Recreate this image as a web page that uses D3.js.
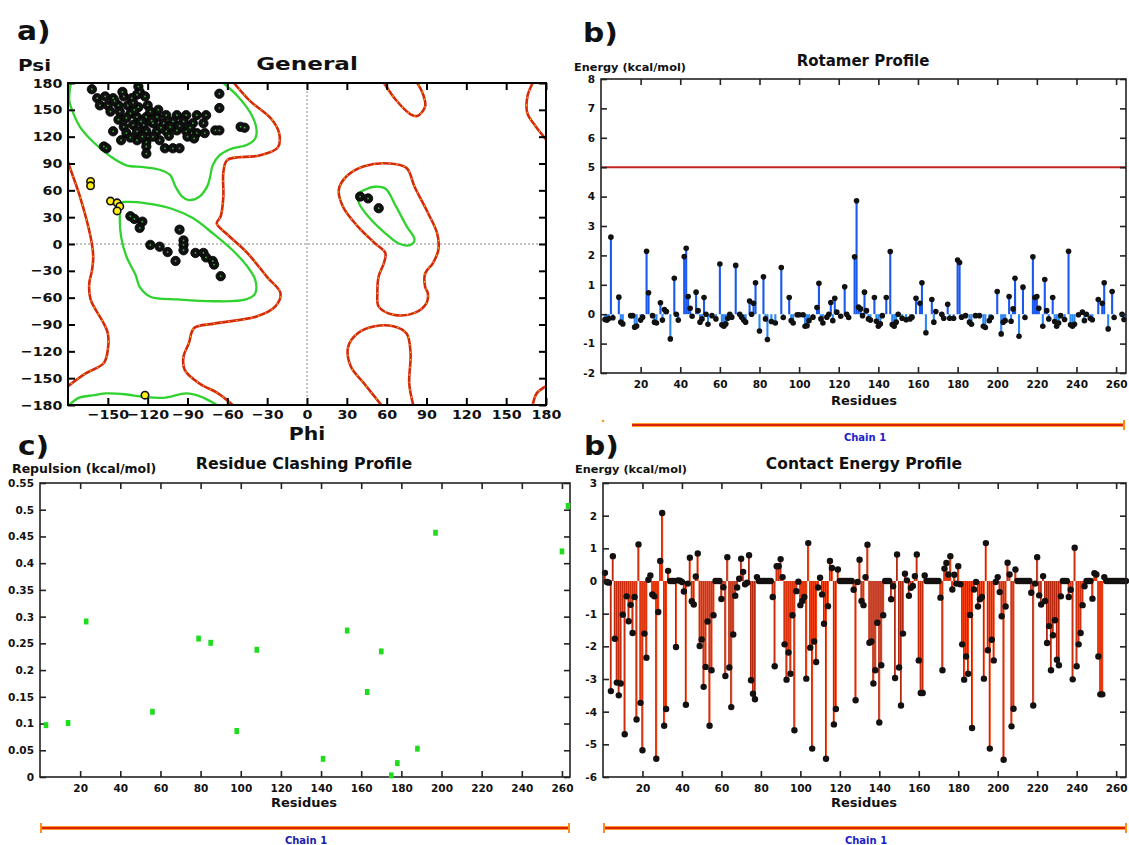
<!DOCTYPE html>
<html>
<head>
<meta charset="utf-8">
<script src="https://cdn.jsdelivr.net/npm/d3@7"></script>
<style>
  body { margin: 0; background: #fff; }
  text { font-family: "DejaVu Sans", Verdana, sans-serif; font-weight: bold; fill: #111; }
</style>
</head>
<body>
<svg id="fig" width="1129" height="845"></svg>
<script>
// ================= data =================

// Ramachandran plot (phi, psi in degrees)
const phiTicks = [-150, -120, -90, -60, -30, 0, 30, 60, 90, 120, 150, 180];
const psiTicks = [-180, -150, -120, -90, -60, -30, 0, 30, 60, 90, 120, 150, 180];

const favouredResidues = [
  [-162,173],[-127,176],[-126,170],[-128,167],[-158,163],[-152,165],[-146,163],[-138,165],[-132,163],[-122,165],
  [-120,155],[-156,155],[-150,155],[-142,155],[-135,155],[-127,153],[-148,148],[-141,148],[-133,146],[-142,139],
  [-136,141],[-128,142],[-121,142],[-113,142],[-106,144],[-98,144],[-91,144],[-83,144],[-76,144],[-138,131],
  [-131,133],[-123,133],[-116,135],[-108,135],[-101,137],[-93,137],[-86,135],[-78,135],[-146,126],[-136,124],
  [-128,126],[-121,126],[-113,126],[-106,126],[-98,127],[-91,126],[-83,124],[-77,124],[-69,127],[-66,127],
  [-50,131],[-47,130],[-140,116],[-128,116],[-121,114],[-111,116],[-153,109],[-151,107],[-121,109],[-121,101],
  [-107,107],[-101,107],[-96,107],[-66,168],[-66,152],[-130,150],[-118,148],[-110,130],[-103,131],[-96,132],
  [-88,130],[-125,137],[-117,138],[-112,150],[-131,158],[-124,120],[-116,120],[-104,121],[-90,120],[-85,118],
  [-133,119],[-145,160],[-139,170],
  [-133,31],[-130,28],[-124,25],[-126,18],[-118,-1],[-111,-3],[-105,-9],[-99,-19],[-96,16],[-93,4],
  [-93,-1],[-93,-7],[-84,-10],[-78,-10],[-76,-15],[-71,-19],[-70,-23],[-65,-36],
  [40,53],[46,51],[54,40]
];
const allowedResidues = [[-163,70],[-163,65],[-148,48],[-143,46],[-141,42],[-143,37],[-122,-169]];

// favoured-region contours (green)
const favouredBeta = [[-178,180],[-179,160],[-177,150],[-171,131],[-161,114],[-148,98],[-136,88],[-123,86],[-111,83],
  [-103,77],[-99,64],[-94,53],[-89,49],[-81,53],[-75,65],[-73,75],[-71,88],[-66,99],[-58,106],[-45,111],[-39,118],
  [-38,128],[-42,145],[-52,165],[-63,180]];
const favouredBetaWrap = [[-179,-180],[-172,-172],[-160,-169],[-151,-167],[-137,-168],[-123,-171],[-108,-172],
  [-91,-167],[-81,-170],[-70,-178],[-68,-180]];
const favouredAlpha = [[-140,46],[-136,47],[-121,45.5],[-103,40],[-86,29],[-71,12],[-56,-7],[-45,-25],[-39,-40],
  [-39,-55],[-46,-62],[-70,-64],[-97,-62],[-118,-59],[-126,-48],[-129,-35],[-136,-14],[-140,8],[-141,30]];
const favouredLeft = [[38,55],[44,61],[51,64],[59,62],[67,42],[75,20],[81,5],[78,-1],[70,0],[59,12],[46,31],[39,46]];

// allowed-region contours (red)
const allowedMain = [[-55,180],[-43,160],[-27,140],[-21,124],[-22,108],[-36,99],[-60,94],[-63,80],[-63,53],[-65,31],
  [-68,23],[-61,12],[-45,-10],[-30,-37],[-20,-55],[-24,-70],[-38,-81],[-70,-89],[-85,-94],[-89,-111],[-93,-126],
  [-92,-141],[-81,-156],[-67,-167],[-56,-180]];
const allowedLeftEdge = [[-180,92],[-178,83],[-171,53],[-163,8],[-161,-14],[-162,-30],[-164,-44],[-163,-62],
  [-153,-89],[-150,-100],[-150,-118],[-153,-133],[-167,-145],[-180,-159]];
const allowedRightTop = [[170,180],[166,165],[166,146],[172,132],[180,117]];
const allowedRightBottom = [[180,-159],[173,-167],[170,-180]];
const allowedLeftHandTop = [[58,180],[67,161],[78,145],[83,143],[89,154],[87,169],[83,180]];
const allowedLeftHand = [[24,61],[30,76],[43,87],[62,90],[75,85],[81,64],[91,35],[98,12],[99,-6],[95,-21],[89,-33],
  [89,-48],[91,-55],[90,-66],[81,-77],[65,-79],[54,-70],[53,-55],[54,-36],[58,-21],[59,-10],[51,1],[38,20],[27,42]];
const allowedLeftHandBottom = [[56,-180],[43,-156],[33,-137],[31,-115],[38,-100],[51,-92],[65,-92],[75,-100],
  [78,-122],[77,-156],[80,-180]];

// Residue profiles
const residueTicks = [20, 40, 60, 80, 100, 120, 140, 160, 180, 200, 220, 240, 260];

const rotamerTicks = [-2, -1, 0, 1, 2, 3, 4, 5, 6, 7, 8];
const rotamerThreshold = 5;
const rotamerProfile = [
  [2,-0.18],[3,-0.2],[4,-0.15],[5,2.62],[6,-0.12],[9,0.58],[10,-0.27],[11,-0.33],[15,-0.05],[16,-0.05],
  [17,-0.44],[18,-0.4],[20,-0.2],[21,-0.1],[23,2.14],[24,0.73],[26,-0.05],[27,-0.27],[28,-0.3],[30,0.39],
  [31,-0.2],[32,0.16],[33,0.09],[35,-0.84],[37,1.22],[38,0],[39,-0.2],[42,1.96],[43,2.24],[44,0.6],
  [45,0.2],[46,-0.07],[48,0.75],[49,0.12],[50,-0.27],[51,-0.16],[52,0.57],[53,0],[54,-0.34],[56,-0.05],
  [58,-0.16],[60,1.71],[61,-0.36],[62,-0.41],[63,-0.33],[64,-0.14],[65,0],[66,-0.1],[68,1.66],[70,0],
  [71,-0.1],[72,-0.2],[73,-0.27],[75,0.45],[76,0],[77,0.37],[78,1.07],[80,-0.57],[82,1.27],[83,-0.16],
  [84,-0.86],[86,-0.25],[88,-0.3],[91,1.59],[92,-0.11],[95,0.57],[96,-0.22],[97,-0.3],[99,-0.02],[100,-0.02],
  [102,-0.02],[103,-0.41],[104,-0.39],[105,-0.22],[107,-0.1],[109,0.23],[110,1.05],[111,-0.16],[112,-0.3],[114,-0.1],
  [115,0],[116,0.4],[117,-0.22],[118,0.54],[119,0.07],[121,-0.07],[123,0.93],[124,0],[125,-0.11],[128,1.95],
  [129,3.86],[130,0.24],[131,0.18],[132,-0.05],[133,0.75],[134,0.12],[135,-0.16],[136,-0.2],[138,0.57],[139,-0.24],
  [140,-0.41],[141,-0.33],[142,-0.05],[144,0.57],[146,2.13],[147,-0.35],[148,-0.41],[149,-0.27],[150,0],[152,-0.14],
  [154,-0.19],[156,-0.16],[157,-0.1],[159,0.54],[161,0.37],[162,1.07],[164,-0.63],[167,0.5],[168,-0.27],[169,0.09],
  [172,0],[173,-0.14],[175,0.34],[176,-0.14],[178,-0.14],[180,1.84],[181,1.76],[182,-0.1],[184,-0.05],[186,-0.27],
  [187,-0.34],[189,-0.05],[191,-0.05],[193,-0.41],[194,-0.45],[196,-0.22],[197,-0.11],[200,0.77],[202,-0.67],[203,-0.27],
  [204,-0.22],[206,0.6],[207,-0.24],[208,0.18],[209,1.22],[211,-0.75],[213,0.92],[214,-0.11],[218,1.95],[219,0.57],
  [220,0.6],[221,0.2],[223,-0.41],[224,1.18],[225,0.12],[226,-0.16],[228,0.57],[229,-0.25],[230,-0.41],[231,-0.3],
  [232,-0.05],[234,-0.18],[236,2.14],[237,-0.36],[238,-0.41],[239,-0.34],[241,-0.02],[243,0.07],[244,-0.22],[245,0],
  [247,-0.14],[248,-0.19],[251,0.5],[253,0.37],[254,1.07],[256,-0.5],[258,0.77],[259,-0.11],[263,0],[264,-0.18]
];

const clashTicks = [0, 0.05, 0.1, 0.15, 0.2, 0.25, 0.3, 0.35, 0.4, 0.45, 0.5, 0.55];
const clashResidues = [3, 14, 23, 56, 79, 85, 98, 108, 141, 153, 163, 170, 175, 178, 188, 197, 260, 263];
const clashRepulsion = [0.097, 0.101, 0.291, 0.122, 0.259, 0.251, 0.086, 0.238, 0.034, 0.274, 0.159, 0.235,
  0.003, 0.026, 0.053, 0.457, 0.422, 0.507];

const contactTicks = [-6, -5, -4, -3, -2, -1, 0, 1, 2, 3];
// contact energy of residues 1..265
const contactEnergy = [
  0.25,-0.03,-0.05,-3.37,0.76,-1.77,-3.11,-3.50,-3.14,-1.03,
  -4.69,-0.47,-1.23,-0.73,-1.59,-0.49,-4.24,1.12,-3.73,-5.18,
  -1.61,-2.35,0.04,0.17,-0.41,-0.47,-5.44,-0.95,0.61,2.08,
  -4.43,-3.92,0.31,0,0,0,-2.02,0.02,0.01,-0.03,
  -0.32,-3.79,-0.08,0.71,-0.62,-0.72,0.14,0.84,-1.99,-1.79,
  -3.24,-2.63,-1.24,-4.43,-2.73,-1.05,0,0,0,-0.55,
  -0.19,-2.91,0.73,-2.65,-3.86,-1.64,-0.45,-0.20,0.07,0.68,
  0.28,-0.10,-0.05,0.79,-3.04,-3.45,-3.62,0.12,0,0,
  0,0,0,0,0,-0.49,-2.61,0.45,0.45,0.67,
  0.12,-1.94,-3.02,-2.19,-2.84,-1.05,-4.57,-0.31,-0.02,-0.74,
  -0.61,-0.49,-2.99,1.16,-2.04,-5.13,-1.85,-2.48,-0.20,0.10,
  -0.41,-1.31,-5.44,-0.77,0.61,0.40,-4.39,-3.92,0.35,0,
  0,0,0,0,0,0,-0.27,-3.65,-0.03,0.65,
  -0.61,-0.74,0.12,1.11,-1.89,-1.85,-3.14,-2.73,-1.28,-4.33,
  -2.58,-1.05,0,0,0,-0.56,-0.16,-2.97,0.81,-2.65,
  -3.81,-1.61,0.22,0.02,-0.45,-0.21,-0.15,0.15,0.81,-2.43,
  -3.43,-3.43,0.17,0,0,0,0,0,0,0,
  -0.51,-2.73,0.38,0.55,0.20,0.76,-0.26,0.19,-0.08,0.45,
  -0.10,-1.94,-3.02,-2.31,-2.84,-1.04,-4.50,-0.26,-0.03,-0.78,
  -0.56,-0.49,-2.99,1.16,-2.12,-5.13,-1.80,-2.43,-0.03,0.12,
  -0.34,-1.08,-5.47,-0.78,0.56,0.20,-4.45,-3.91,0.35,0,
  0,0,0,0,0,0,-0.36,-3.81,-0.08,0.73,
  -0.44,-0.72,0.15,-0.61,-1.90,-1.38,-2.73,-1.66,-1.20,-2.41,
  -2.58,-0.47,0,0,0,-0.49,-0.27,-3.01,1.02,-2.61,
  -1.94,-1.59,-0.74,-0.16,0,0,0,-0.54,0.24,0.20,
  -2.31,-3.47,-3.47,0.12,0,0,0,0,0,0,
  0,0,0,0,0
];

// ================= drawing =================
const svg = d3.select("#fig");

function label(g, txt, x, y, size, opts = {}) {
  const t = g.append("text").attr("x", x).attr("y", y)
    .attr("font-size", size).attr("text-anchor", opts.anchor || "start").text(txt);
  if (opts.fill) t.style("fill", opts.fill);
  if (opts.sx) {
    t.attr("transform", `translate(${x},0) scale(${opts.sx},1) translate(${-x},0)`);
  }
  return t;
}

// ---------- panel a: Ramachandran plot ----------
(function () {
  const g = svg.append("g");
  const x = d3.scaleLinear().domain([-180, 180]).range([68, 546]);
  const y = d3.scaleLinear().domain([-180, 180]).range([405, 83]);
  const SX = 1.1;

  g.append("clipPath").attr("id", "ramaClip").append("rect")
    .attr("x", 68).attr("y", 83).attr("width", 478).attr("height", 322);
  const plot = g.append("g").attr("clip-path", "url(#ramaClip)");

  // zero guide lines
  plot.append("line").attr("x1", x(0)).attr("x2", x(0)).attr("y1", 83).attr("y2", 405)
    .attr("stroke", "#8a8a8a").attr("stroke-width", 1).attr("stroke-dasharray", "2,2");
  plot.append("line").attr("x1", 68).attr("x2", 546).attr("y1", y(0)).attr("y2", y(0))
    .attr("stroke", "#8a8a8a").attr("stroke-width", 1).attr("stroke-dasharray", "2,2");

  const open = d3.line().x(d => x(d[0])).y(d => y(d[1])).curve(d3.curveCatmullRom.alpha(0.5));
  const closed = d3.line().x(d => x(d[0])).y(d => y(d[1])).curve(d3.curveCatmullRomClosed.alpha(0.5));

  const allowedOpen = [allowedMain, allowedLeftEdge, allowedRightTop, allowedRightBottom,
    allowedLeftHandTop, allowedLeftHandBottom];
  const allowedClosed = [allowedLeftHand];
  const favOpen = [favouredBeta, favouredBetaWrap];
  const favClosed = [favouredAlpha, favouredLeft];

  function drawRed(path) {
    plot.append("path").attr("d", path).attr("fill", "none")
      .attr("stroke", "#d42a0a").attr("stroke-width", 2.6);
    plot.append("path").attr("d", path).attr("fill", "none")
      .attr("stroke", "#ffc21a").attr("stroke-width", 1.1).attr("stroke-dasharray", "1.5,6");
  }
  allowedOpen.forEach(c => drawRed(open(c)));
  allowedClosed.forEach(c => drawRed(closed(c)));
  favOpen.forEach(c => plot.append("path").attr("d", open(c)).attr("fill", "none")
    .attr("stroke", "#2fd22f").attr("stroke-width", 2.3));
  favClosed.forEach(c => plot.append("path").attr("d", closed(c)).attr("fill", "none")
    .attr("stroke", "#2fd22f").attr("stroke-width", 2.3));

  // residues
  plot.selectAll("circle.fav").data(favouredResidues).join("circle").attr("class", "fav")
    .attr("cx", d => x(d[0])).attr("cy", d => y(d[1])).attr("r", 4.7)
    .attr("fill", "#111").attr("stroke", "#000").attr("stroke-width", 0.8);
  plot.selectAll("circle.favc").data(favouredResidues).join("circle").attr("class", "favc")
    .attr("cx", d => x(d[0])).attr("cy", d => y(d[1])).attr("r", 0.9).attr("fill", "#3fae3f");
  plot.selectAll("circle.alw").data(allowedResidues).join("circle").attr("class", "alw")
    .attr("cx", d => x(d[0])).attr("cy", d => y(d[1])).attr("r", 3.7)
    .attr("fill", "#ffee1a").attr("stroke", "#111").attr("stroke-width", 1.6);

  // axes with inward ticks
  function styleAxis(sel) {
    sel.select(".domain").remove();
    sel.selectAll(".tick line").attr("stroke", "#000").attr("stroke-width", 2);
    sel.selectAll(".tick text").attr("font-size", 13).attr("font-family", null).style("fill", "#111")
      .attr("transform", `scale(${SX},1)`);
  }
  g.append("g").attr("transform", "translate(0,405)")
    .call(d3.axisBottom(x).tickValues(phiTicks).tickSizeInner(-7).tickSizeOuter(0).tickPadding(5))
    .call(styleAxis);
  g.append("g").attr("transform", "translate(0,83)")
    .call(d3.axisTop(x).tickValues(phiTicks).tickSizeInner(-7).tickSizeOuter(0).tickFormat(""))
    .call(styleAxis);
  g.append("g").attr("transform", "translate(68,0)")
    .call(d3.axisLeft(y).tickValues(psiTicks).tickSizeInner(-7).tickSizeOuter(0).tickPadding(5))
    .call(styleAxis);
  g.append("g").attr("transform", "translate(546,0)")
    .call(d3.axisRight(y).tickValues(psiTicks).tickSizeInner(-7).tickSizeOuter(0).tickFormat(""))
    .call(styleAxis);
  g.selectAll("text").attr("font-family", null);

  g.append("rect").attr("x", 68).attr("y", 83).attr("width", 478).attr("height", 322)
    .attr("fill", "none").attr("stroke", "#000").attr("stroke-width", 2);

  label(g, "a)", 17, 40, 27, { sx: 1.1 });
  label(g, "Psi", 18, 71, 16, { sx: 1.25 });
  label(g, "General", 307, 70, 18.5, { anchor: "middle", sx: 1.25 });
  label(g, "Phi", 307, 440, 17, { anchor: "middle", sx: 1.2 });
})();

// ---------- shared frame for residue profiles ----------
function profileFrame(g, x, y, yTicks, yFormat) {
  const [x0, x1] = x.range();
  const [yb, yt] = y.range();
  function styleAxis(sel) {
    sel.select(".domain").remove();
    sel.selectAll(".tick line").attr("stroke", "#222").attr("stroke-width", 1.6);
    sel.selectAll(".tick text").attr("font-size", 10.5).attr("font-family", null).style("fill", "#111");
  }
  g.append("g").attr("transform", `translate(0,${yb})`)
    .call(d3.axisBottom(x).tickValues(residueTicks).tickSizeInner(-6).tickSizeOuter(0).tickPadding(7.5))
    .call(styleAxis);
  g.append("g").attr("transform", `translate(0,${yt})`)
    .call(d3.axisTop(x).tickValues(residueTicks).tickSizeInner(-6).tickSizeOuter(0).tickFormat(""))
    .call(styleAxis);
  g.append("g").attr("transform", `translate(${x0},0)`)
    .call(d3.axisLeft(y).tickValues(yTicks).tickSizeInner(-6).tickSizeOuter(0).tickPadding(6).tickFormat(yFormat))
    .call(styleAxis);
  g.append("g").attr("transform", `translate(${x1},0)`)
    .call(d3.axisRight(y).tickValues(yTicks).tickSizeInner(-6).tickSizeOuter(0).tickFormat(""))
    .call(styleAxis);
  g.append("rect").attr("x", x0).attr("y", yt).attr("width", x1 - x0).attr("height", yb - yt)
    .attr("fill", "none").attr("stroke", "#222").attr("stroke-width", 1.6);
}

function chainBar(g, xa, xb, yy, caps) {
  g.append("line").attr("x1", xa).attr("x2", xb).attr("y1", yy).attr("y2", yy)
    .attr("stroke", "#ff9a2a").attr("stroke-width", 4);
  g.append("line").attr("x1", xa).attr("x2", xb).attr("y1", yy).attr("y2", yy)
    .attr("stroke", "#d9240a").attr("stroke-width", 2.2);
  caps.forEach(cx => g.append("line").attr("x1", cx).attr("x2", cx).attr("y1", yy - 5).attr("y2", yy + 5)
    .attr("stroke", "#ff8c1a").attr("stroke-width", 2));
}

const fmtPlain = d => String(+d.toFixed(2));

// ---------- panel b: rotamer profile ----------
(function () {
  const g = svg.append("g");
  const x = d3.scaleLinear().domain([0, 265]).range([601, 1126]);
  const y = d3.scaleLinear().domain([-2, 8]).range([373, 79]);

  g.append("line").attr("x1", 601).attr("x2", 1126).attr("y1", y(rotamerThreshold)).attr("y2", y(rotamerThreshold))
    .attr("stroke", "#c42424").attr("stroke-width", 2);

  g.selectAll("line.stem").data(rotamerProfile).join("line").attr("class", "stem")
    .attr("x1", d => x(d[0])).attr("x2", d => x(d[0]))
    .attr("y1", y(0)).attr("y2", d => y(d[1]))
    .attr("stroke", d => d[1] > 0 ? "#1a58f0" : "#2a86f5").attr("stroke-width", 2.1);
  g.selectAll("circle").data(rotamerProfile).join("circle")
    .attr("cx", d => x(d[0])).attr("cy", d => y(d[1])).attr("r", 2.8).attr("fill", "#111");

  profileFrame(g, x, y, rotamerTicks, fmtPlain);

  label(g, "b)", 583, 42, 27, { sx: 1.1 });
  label(g, "Energy (kcal/mol)", 574, 71, 11.3);
  label(g, "Rotamer Profile", 863, 66, 15, { anchor: "middle" });
  label(g, "Residues", 864, 405, 13, { anchor: "middle" });
  g.append("circle").attr("cx", 603).attr("cy", 421).attr("r", 1.3).attr("fill", "#ff9a2a");
  chainBar(g, 632, 1124, 425, [1124]);
  label(g, "Chain 1", 865, 441, 10, { anchor: "middle", fill: "#1a22c8" });
})();

// ---------- panel c: residue clashing profile ----------
(function () {
  const g = svg.append("g");
  const x = d3.scaleLinear().domain([0, 264]).range([40, 570]);
  const y = d3.scaleLinear().domain([0, 0.55]).range([777, 483]);

  profileFrame(g, x, y, clashTicks, fmtPlain);

  g.selectAll("rect.clash").data(clashResidues).join("rect").attr("class", "clash")
    .attr("x", d => x(d) - 2.3).attr("y", (d, i) => y(clashRepulsion[i]) - 3)
    .attr("width", 4.6).attr("height", 6).attr("fill", "#1fdc1f");

  label(g, "c)", 18, 455, 27, { sx: 1.1 });
  label(g, "Repulsion (kcal/mol)", 12, 473, 12.5);
  label(g, "Residue Clashing Profile", 304, 469, 15.8, { anchor: "middle" });
  label(g, "Residues", 304, 807, 13, { anchor: "middle" });
  chainBar(g, 41, 569, 828, [41, 569]);
  label(g, "Chain 1", 306, 844, 10, { anchor: "middle", fill: "#1a22a8" });
})();

// ---------- panel d: contact energy profile ----------
(function () {
  const g = svg.append("g");
  const x = d3.scaleLinear().domain([0, 265]).range([603, 1126]);
  const y = d3.scaleLinear().domain([-6, 3]).range([777, 483]);
  const data = contactEnergy.map((v, i) => [i + 1, v]);
  const bw = (x(1) - x(0)) * 0.95;

  g.selectAll("rect.bar").data(data.filter(d => d[1] !== 0)).join("rect").attr("class", "bar")
    .attr("x", d => x(d[0]) - bw / 2).attr("width", bw)
    .attr("y", d => Math.min(y(0), y(d[1]))).attr("height", d => Math.abs(y(d[1]) - y(0)))
    .attr("fill", "#ff4412");
  g.selectAll("line.stem").data(data.filter(d => d[1] !== 0)).join("line").attr("class", "stem")
    .attr("x1", d => x(d[0]) - bw / 2 + 0.4).attr("x2", d => x(d[0]) - bw / 2 + 0.4)
    .attr("y1", y(0)).attr("y2", d => y(d[1]))
    .attr("stroke", "#9a1a0a").attr("stroke-width", 0.8);
  g.selectAll("circle").data(data).join("circle")
    .attr("cx", d => x(d[0])).attr("cy", d => y(d[1])).attr("r", 3.2).attr("fill", "#141010");

  profileFrame(g, x, y, contactTicks, fmtPlain);

  label(g, "b)", 584, 455, 27, { sx: 1.1 });
  label(g, "Energy (kcal/mol)", 575, 473, 11.3);
  label(g, "Contact Energy Profile", 864, 469, 15.5, { anchor: "middle" });
  label(g, "Residues", 864, 807, 13, { anchor: "middle" });
  chainBar(g, 604, 1126, 828, [604, 1126]);
  label(g, "Chain 1", 866, 844, 10, { anchor: "middle", fill: "#1a22c8" });
})();
</script>
</body>
</html>
